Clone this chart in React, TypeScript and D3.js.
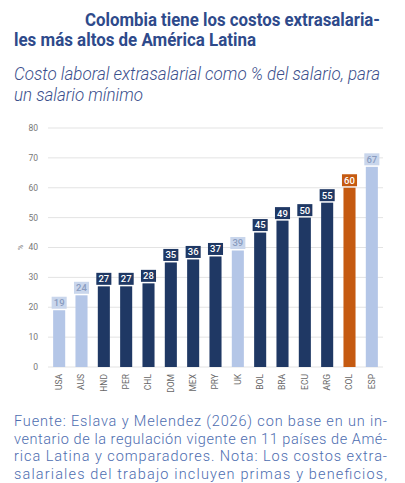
import React from 'react';
import * as d3 from 'd3';

const countries = ['USA', 'AUS', 'HND', 'PER', 'CHL', 'DOM', 'MEX', 'PRY', 'UK', 'BOL', 'BRA', 'ECU', 'ARG', 'COL', 'ESP'];
const values = [19, 24, 27, 27, 28, 35, 36, 37, 39, 45, 49, 50, 55, 60, 67];
// group: c = comparator, l = latin america, o = colombia
const groups = ['c', 'c', 'l', 'l', 'l', 'l', 'l', 'l', 'c', 'l', 'l', 'l', 'l', 'o', 'c'];
const yTicks = [0, 10, 20, 30, 40, 50, 60, 70, 80];

const titleLines = ['Colombia tiene los costos extrasalaria-', 'les más altos de América Latina'];
const subtitleLines = ['Costo laboral extrasalarial como % del salario, para', 'un salario mínimo'];
const noteLines = [
  'Fuente: Eslava y Melendez (2026) con base en un in-',
  'ventario de la regulación vigente en 11 países de Amé-',
  'rica Latina y comparadores. Nota: Los costos extra-',
  'salariales del trabajo incluyen primas y beneficios,',
];

const barFill: Record<string, string> = { c: '#b4c6e7', l: '#1f3864', o: '#c55a11' };
const boxFill: Record<string, string> = { c: '#c9d6ec', l: '#1f3864', o: '#c55a11' };
const boxText: Record<string, string> = { c: '#8a9cc0', l: '#ffffff', o: '#ffffff' };

const W = 405;
const H = 483;
const margin = { left: 48, right: 22, top: 128, bottom: 116 };

export default function App() {
  const x = d3.scaleBand<string>()
    .domain(countries)
    .range([margin.left, W - margin.right])
    .paddingInner(0.46)
    .paddingOuter(0.23);

  const y = d3.scaleLinear()
    .domain([0, 80])
    .range([H - margin.bottom, margin.top]);

  const font = 'Roboto, "Noto Sans", sans-serif';

  return (
    <svg width={W} height={H} style={{ position: 'absolute', left: 0, top: 0, background: '#fff' }}>
      {/* title */}
      <text x={85} y={26} fill="#2e4a8b" fontFamily={font} fontWeight={700} fontSize={18}
        textLength={295} lengthAdjust="spacingAndGlyphs">{titleLines[0]}</text>
      <text x={14} y={46} fill="#2e4a8b" fontFamily={font} fontWeight={700} fontSize={18}
        textLength={242} lengthAdjust="spacingAndGlyphs">{titleLines[1]}</text>

      {/* subtitle */}
      <text x={14} y={80} fill="#3b4f8c" fontFamily={font} fontStyle="italic" fontWeight={300} fontSize={17.5}
        textLength={366} lengthAdjust="spacingAndGlyphs">{subtitleLines[0]}</text>
      <text x={14} y={101} fill="#3b4f8c" fontFamily={font} fontStyle="italic" fontWeight={300} fontSize={17.5}
        textLength={129} lengthAdjust="spacingAndGlyphs">{subtitleLines[1]}</text>

      {/* grid + y ticks */}
      {yTicks.map(t => (
        <g key={t}>
          <line x1={margin.left} x2={W - margin.right} y1={y(t)} y2={y(t)} stroke="#e3e3e3" strokeWidth={1} />
          <text x={38} y={y(t)} dy="0.35em" textAnchor="end" fill="#777" fontFamily={font} fontSize={8.5}>{t}</text>
        </g>
      ))}
      <text transform={`translate(21,${y(40)}) rotate(-90)`} textAnchor="middle" dy="0.35em"
        fill="#777" fontFamily={font} fontSize={7}>%</text>

      {/* bars */}
      {countries.map((c, i) => {
        const bx = x(c) ?? 0;
        const bw = x.bandwidth();
        const top = y(values[i]);
        const g = groups[i];
        const boxW = bw + 3;
        const boxH = 12;
        return (
          <g key={c}>
            <rect x={bx} y={top} width={bw} height={y(0) - top} fill={barFill[g]} />
            <rect x={bx + bw / 2 - boxW / 2} y={top - boxH - 1.5} width={boxW} height={boxH} fill={boxFill[g]} />
            <text x={bx + bw / 2} y={top - 1.5 - boxH / 2} dy="0.36em" textAnchor="middle"
              fill={boxText[g]} fontFamily={font} fontSize={9.5} fontWeight={500}>{values[i]}</text>
            <text transform={`translate(${bx + bw / 2},${y(0) + 7}) rotate(-90)`} textAnchor="end" dy="0.35em"
              fill="#666" fontFamily={font} fontSize={8.5}>{c}</text>
          </g>
        );
      })}

      {/* note */}
      {noteLines.map((l, i) => (
        <text key={i} x={14} y={426 + i * 17.7} fill="#4d6db0" fontFamily={font} fontWeight={300} fontSize={14.5}
          textLength={373} lengthAdjust="spacing">{l}</text>
      ))}
    </svg>
  );
}
